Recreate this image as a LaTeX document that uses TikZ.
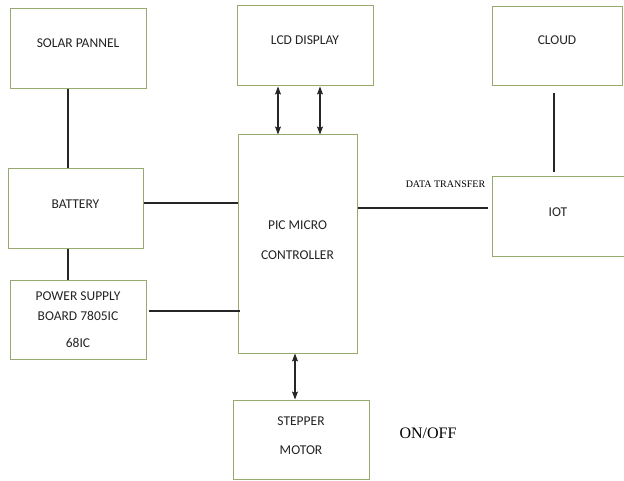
\documentclass[tikz,border=0pt]{standalone}
\usepackage{fontspec}
\setmainfont{Liberation Serif}
\newfontfamily\boxfont{Carlito}
\usetikzlibrary{arrows.meta,positioning}
\definecolor{boxline}{RGB}{150,170,112}
\definecolor{boxtext}{RGB}{35,35,35}

\begin{document}
\begin{tikzpicture}[x=1pt,y=-1pt,
  blk/.style={draw=boxline,line width=1pt,inner sep=0pt},
  txt/.style={text=boxtext,align=center,inner sep=0pt,font=\boxfont\fontsize{13.5}{15}\selectfont},
  wire/.style={line width=1.1pt,black!85},
  dbl/.style={wire,{Stealth[length=8pt,width=6pt,inset=1.5pt]}-{Stealth[length=8pt,width=6pt,inset=1.5pt]}}]
\path[use as bounding box] (0,0) rectangle (624,481);

\node[blk,minimum width=136pt,minimum height=80pt,label={[txt,yshift=6pt]center:SOLAR PANNEL}] (solar) at (78,49) {};
\node[blk,minimum width=136pt,minimum height=80pt,label={[txt,yshift=6pt]center:LCD DISPLAY}] (lcd) at (305,46) {};
\node[blk,minimum width=130pt,minimum height=79pt,label={[txt,yshift=6.5pt]center:CLOUD}] (cloud) at (557,46.5) {};
\node[blk,minimum width=135pt,minimum height=80pt,label={[txt,yshift=5pt]center:BATTERY}] (battery) at (75.5,209) {};
\node[blk,minimum width=136pt,minimum height=79pt,label={[txt]center:POWER SUPPLY\\[5pt]BOARD 7805IC\\[12pt]68IC}] (power) at (78,319.5) {};
\node[blk,minimum width=119pt,minimum height=218pt,label={[txt,yshift=4pt]center:PIC MICRO\\[15pt]CONTROLLER}] (pic) at (297.5,244) {};
\node[blk,minimum width=132pt,minimum height=80pt,label={[txt,yshift=5pt]center:IOT}] (iot) at (558,217) {};
\node[blk,minimum width=136pt,minimum height=79pt,label={[txt,yshift=4pt]center:STEPPER\\[14pt]MOTOR}] (stepper) at (301,439.5) {};

\node[font=\fontsize{10}{11}\selectfont,inner sep=0pt] (data) at (445.5,184) {DATA TRANSFER};
\node[font=\fontsize{16}{18}\selectfont,inner sep=0pt] (onoff) at (428,433) {ON/OFF};

% power side
\draw[wire] ([xshift=-10pt]solar.south) -- ([xshift=-7.5pt]battery.north);
\draw[wire] ([xshift=-7.5pt]battery.south) -- ([xshift=-10pt]power.north);
\coordinate (b1) at ([yshift=6pt]battery.east);
\draw[wire] (b1) -- (b1 -| pic.west);
\coordinate (p1) at ([xshift=2pt,yshift=8.5pt]power.east);
\draw[wire] (p1) -- ([xshift=2pt]p1 -| pic.west);

% display
\coordinate (l1) at ([xshift=-27pt]lcd.south);
\coordinate (l2) at ([xshift=15pt]lcd.south);
\draw[dbl] (l1) -- (l1 |- pic.north);
\draw[dbl] (l2) -- (l2 |- pic.north);

% iot and cloud
\coordinate (i1) at ([xshift=-4pt,yshift=9pt]iot.west);
\draw[wire] (i1 -| pic.east) -- (i1);
\coordinate (c1) at ([xshift=-3pt,yshift=-7pt]cloud.south);
\coordinate (c2) at ([yshift=4pt]c1 |- iot.north);
\draw[wire] (c1) -- (c2);

% motor
\coordinate (m1) at ([xshift=-2.5pt]pic.south);
\draw[dbl] (m1) -- (m1 |- stepper.north);
\end{tikzpicture}
\end{document}
